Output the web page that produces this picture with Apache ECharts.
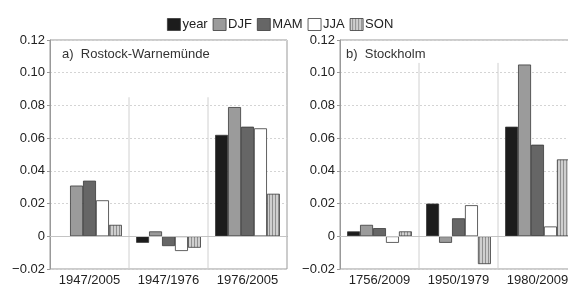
<!DOCTYPE html>
<html><head><meta charset="utf-8">
<script src="https://cdn.jsdelivr.net/npm/echarts@6/dist/echarts.min.js"></script>
<style>html,body{margin:0;padding:0;background:#fff}#c{width:568px;height:286px}</style>
</head><body><div id="c"></div>
<script>
var seasons = ['year', 'DJF', 'MAM', 'JJA', 'SON'];
var catsA = ['1947/2005', '1947/1976', '1976/2005'];
var catsB = ['1756/2009', '1950/1979', '1980/2009'];
var titleA = 'a)  Rostock-Warnemünde';
var titleB = 'b)  Stockholm';
// values per season, per category
var valsA = {
  year: [null, -0.004, 0.062],
  DJF: [0.031, 0.003, 0.079],
  MAM: [0.034, -0.006, 0.067],
  JJA: [0.022, -0.009, 0.066],
  SON: [0.007, -0.007, 0.026]
};
var valsB = {
  year: [0.003, 0.020, 0.067],
  DJF: [0.007, -0.004, 0.105],
  MAM: [0.005, 0.011, 0.056],
  JJA: [-0.004, 0.019, 0.006],
  SON: [0.003, -0.017, 0.047]
};
var yMin = -0.02, yMax = 0.12, yStep = 0.02;
// separator line tops (value units)
var sepTopA = 0.085, sepTopB = 0.106;

var pc = document.createElement('canvas');
pc.width = 3; pc.height = 4;
var g = pc.getContext('2d');
g.fillStyle = '#cfcfcf'; g.fillRect(0, 0, 3, 4);
g.fillStyle = '#8f8f8f'; g.fillRect(2, 0, 1, 4);
var colors = {
  year: '#1c1c1c', DJF: '#9b9b9b', MAM: '#666666', JJA: '#ffffff',
  SON: {image: pc, repeat: 'repeat'}
};
var font = '"Liberation Sans", Arial, sans-serif';

function yAxis(gi) {
  return {
    type: 'value', gridIndex: gi, min: yMin, max: yMax, interval: yStep,
    axisLine: {show: true, lineStyle: {color: '#999'}},
    axisTick: {show: true, length: 3, lineStyle: {color: '#999'}},
    splitLine: {show: true, lineStyle: {color: '#d4d4d4', type: [2, 2], width: 1}},
    axisLabel: {color: '#222', fontSize: 13, fontFamily: font, margin: 5,
      formatter: function (v) { if (Math.abs(v) < 1e-9) return '0'; return v < 0 ? '\u2212' + (-v).toFixed(2) : v.toFixed(2); }}
  };
}
function xAxis(gi, cats) {
  return {
    type: 'category', gridIndex: gi, data: cats, position: 'bottom',
    axisLine: {show: true, lineStyle: {color: '#999'}},
    axisTick: {show: false},
    axisLabel: {color: '#222', fontSize: 13, fontFamily: font, margin: 5, interval: 0},
    splitLine: {show: false}
  };
}
function sepAxis(gi) {
  return {type: 'value', gridIndex: gi, min: 0, max: 3, show: false};
}
var series = [];
function addPanel(gi, vals, sepTop) {
  seasons.forEach(function (s, i) {
    var ser = {
      name: s, type: 'bar', xAxisIndex: gi * 2, yAxisIndex: gi, data: vals[s],
      barGap: '0%', barCategoryGap: '18%',
      itemStyle: {color: colors[s], borderColor: '#3a3a3a', borderWidth: 0.8},
      silent: true
    };
    if (i === 0) {
      ser.markLine = {silent: true, symbol: 'none', label: {show: false},
        lineStyle: {color: '#c4c4c4', type: 'solid', width: 1},
        data: [{yAxis: 0}]};
    }
    series.push(ser);
  });
  series.push({
    type: 'line', xAxisIndex: gi * 2 + 1, yAxisIndex: gi, symbol: 'none',
    connectNulls: false, silent: true, z: 1,
    lineStyle: {color: '#d0d0d0', width: 1},
    data: [[1, yMin], [1, sepTop], null, [2, yMin], [2, sepTop]]
  });
}
addPanel(0, valsA, sepTopA);
addPanel(1, valsB, sepTopB);

var chart = echarts.init(document.getElementById('c'), null, {renderer: 'canvas'});
chart.setOption({
  animation: false,
  textStyle: {fontFamily: font},
  legend: {
    data: seasons, top: 13, left: 162, itemWidth: 13, itemHeight: 12, itemGap: 5,
    icon: 'rect',
    textStyle: {fontSize: 13, color: '#222', fontFamily: font, padding: [0, 0, 0, -3]},
    itemStyle: {borderColor: '#3a3a3a', borderWidth: 0.8}
  },
  title: [
    {text: titleA, left: 57, top: 43, textStyle: {fontSize: 13, fontWeight: 'normal', color: '#333', fontFamily: font}},
    {text: titleB, left: 341, top: 43, textStyle: {fontSize: 13, fontWeight: 'normal', color: '#333', fontFamily: font}}
  ],
  grid: [
    {left: 50, top: 40, width: 237, height: 229, show: true, borderColor: '#999', borderWidth: 1, backgroundColor: 'transparent', outerBoundsMode: 'none', containLabel: false},
    {left: 340, top: 40, width: 237, height: 229, show: true, borderColor: '#999', borderWidth: 1, backgroundColor: 'transparent', outerBoundsMode: 'none', containLabel: false}
  ],
  xAxis: [xAxis(0, catsA), sepAxis(0), xAxis(1, catsB), sepAxis(1)],
  yAxis: [yAxis(0), yAxis(1)],
  series: series
});
</script></body></html>
